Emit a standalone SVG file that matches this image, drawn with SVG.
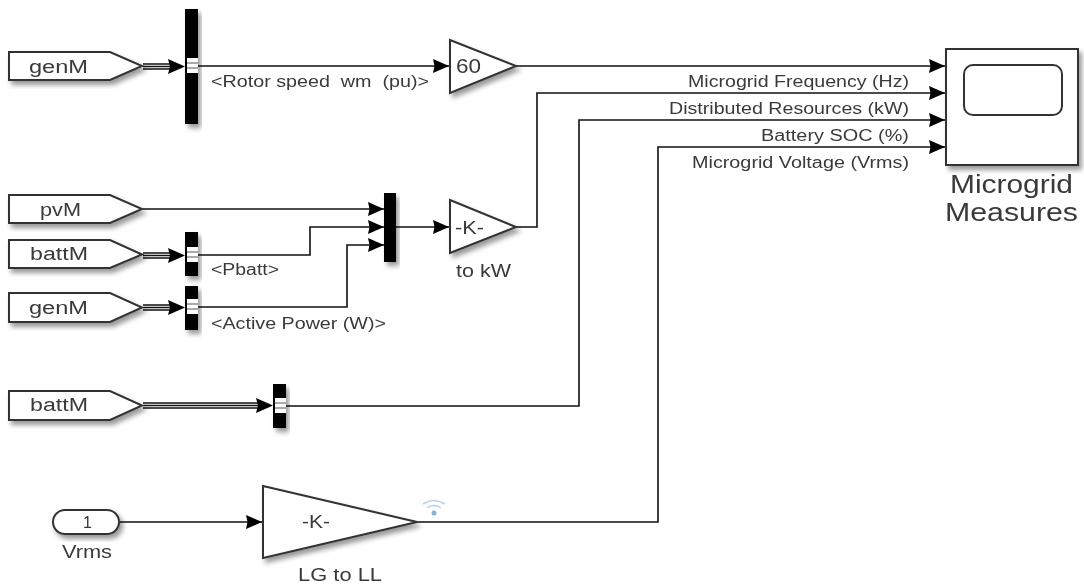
<svg xmlns="http://www.w3.org/2000/svg" width="1084" height="586" viewBox="0 0 1084 586">
<style>
text{font-family:"Liberation Sans",Arial,sans-serif;fill:#3a3a3a;font-size:14px;white-space:pre}
.f{font-size:18px}
.l{font-size:16px}
.b{fill:#fff;stroke:#333;stroke-width:2}
.bar{fill:#000}
.p{fill:#fff;stroke:none}
.c{fill:none;stroke:#111;stroke-width:1.6}
.t{fill:none;stroke:#111;stroke-width:1.3}
.s{filter:url(#sh)}
</style>
<defs>
<filter id="sh" x="-20%" y="-20%" width="150%" height="150%"><feDropShadow dx="3" dy="4" stdDeviation="2.5" flood-color="#000" flood-opacity="0.4"/></filter>
<marker id="a" markerUnits="userSpaceOnUse" markerWidth="17" markerHeight="14" refX="16" refY="7" orient="auto"><path d="M0 0L16 7L0 14L1.500 7Z" fill="#000"/></marker>
<g id="port"><rect x="2" y="-8" width="11" height="15" class="p"/><path d="M2 -3H13M2 2H13" stroke="#555" stroke-width="1"/></g>
</defs>
<g style="filter:blur(0.45px)">
<g id="connectors">
<path class="c" d="M198 66H449" marker-end="url(#a)"/>
<path class="c" d="M516 66H945" marker-end="url(#a)"/>
<path class="c" d="M516 227H537V93H945" marker-end="url(#a)"/>
<path class="c" d="M286 406H579V120H945" marker-end="url(#a)"/>
<path class="c" d="M417 522H658V147H945" marker-end="url(#a)"/>
<path class="c" d="M143 209H384" marker-end="url(#a)"/>
<path class="c" d="M198 255H310V227H384" marker-end="url(#a)"/>
<path class="c" d="M198 307H347V245H384" marker-end="url(#a)"/>
<path class="c" d="M396 227H449" marker-end="url(#a)"/>
<path class="c" d="M120 522H262" marker-end="url(#a)"/>
<path class="t" d="M143 64H172M143 66.500H172M143 69H172"/>
<path d="M168 59L185 66.500L168 74L170 66.500Z" fill="#000"/>
<path class="t" d="M143 253H172M143 255.500H172M143 258H172"/>
<path d="M168 248L185 255.500L168 263L170 255.500Z" fill="#000"/>
<path class="t" d="M143 305H172M143 307.500H172M143 310H172"/>
<path d="M168 300L185 307.500L168 315L170 307.500Z" fill="#000"/>
<path class="t" d="M143 403H262M143 405.500H262M143 408H262"/>
<path d="M256 398L273 405.500L256 413L258 405.500Z" fill="#000"/>
</g>
<g id="genM1"><path class="b s" d="M9 52H110L142 66L110 80H9Z"/><text class="f" x="29" y="73" textLength="59" lengthAdjust="spacingAndGlyphs">genM</text></g>
<g id="pvM"><path class="b s" d="M9 195H110L142 209L110 223H9Z"/><text class="f" x="40" y="216" textLength="41" lengthAdjust="spacingAndGlyphs">pvM</text></g>
<g id="battM1"><path class="b s" d="M9 240H110L142 254.500L110 268H9Z"/><text class="f" x="30" y="260" textLength="58" lengthAdjust="spacingAndGlyphs">battM</text></g>
<g id="genM2"><path class="b s" d="M9 293H110L142 307.500L110 322H9Z"/><text class="f" x="29" y="314" textLength="59" lengthAdjust="spacingAndGlyphs">genM</text></g>
<g id="battM2"><path class="b s" d="M9 391H110L142 405.500L110 420H9Z"/><text class="f" x="30" y="411" textLength="58" lengthAdjust="spacingAndGlyphs">battM</text></g>
<g id="selector1"><rect class="bar s" x="185" y="9" width="13" height="115"/><use href="#port" x="185" y="66"/></g>
<g id="selector2"><rect class="bar s" x="185" y="232" width="13" height="44"/><use href="#port" x="185" y="255"/></g>
<g id="selector3"><rect class="bar s" x="185" y="286" width="13" height="44"/><use href="#port" x="185" y="307"/></g>
<g id="selector4"><rect class="bar s" x="273" y="384" width="13" height="44"/><use href="#port" x="273" y="406"/></g>
<g id="mux"><rect class="bar s" x="384" y="193" width="12" height="69"/></g>
<g id="gain60"><path class="b s" d="M450 40L516 66L450 93Z"/><text x="456" y="73" style="font-size:20px" textLength="25" lengthAdjust="spacingAndGlyphs">60</text></g>
<g id="toKW"><path class="b s" d="M450 200L516 227L450 253Z"/><text class="f" x="455" y="234" textLength="29" lengthAdjust="spacingAndGlyphs">-K-</text><text class="f" x="456" y="277" textLength="55" lengthAdjust="spacingAndGlyphs">to kW</text></g>
<g id="scope"><rect class="b s" x="946" y="49" width="132" height="116"/><rect x="964" y="65" width="98" height="50" rx="9" fill="#fff" stroke="#333" stroke-width="2"/><text x="950" y="193" style="font-size:25px" textLength="123" lengthAdjust="spacingAndGlyphs">Microgrid</text><text x="945" y="221" style="font-size:25px" textLength="133" lengthAdjust="spacingAndGlyphs">Measures</text></g>
<g id="vrms"><rect class="b s" x="53" y="510" width="66" height="24" rx="12"/><text x="83" y="528" style="font-size:16px">1</text><text class="f" x="62" y="558" textLength="50" lengthAdjust="spacingAndGlyphs">Vrms</text></g>
<g id="lgToLL"><path class="b s" d="M263 486L417 522L263 558Z"/><text class="f" x="302" y="528" textLength="28" lengthAdjust="spacingAndGlyphs">-K-</text><text class="f" x="298" y="581" textLength="84" lengthAdjust="spacingAndGlyphs">LG to LL</text></g>
<g id="wifi" fill="none" stroke="#b5d0ea" stroke-width="1.500"><path d="M423 504Q434 497 445 504M427 508Q434 503 441 508"/><circle cx="434" cy="513" r="2.500" fill="#7fb0e0" stroke="none"/></g>
<g id="labels">
<text class="l" x="211" y="87" textLength="218" lengthAdjust="spacingAndGlyphs">&lt;Rotor speed  wm  (pu)&gt;</text>
<text class="l" x="211" y="275" textLength="68" lengthAdjust="spacingAndGlyphs">&lt;Pbatt&gt;</text>
<text class="l" x="211" y="329" textLength="175" lengthAdjust="spacingAndGlyphs">&lt;Active Power (W)&gt;</text>
<text class="l" x="688" y="87" textLength="221" lengthAdjust="spacingAndGlyphs">Microgrid Frequency (Hz)</text>
<text class="l" x="669" y="114" textLength="240" lengthAdjust="spacingAndGlyphs">Distributed Resources (kW)</text>
<text class="l" x="761" y="141" textLength="148" lengthAdjust="spacingAndGlyphs">Battery SOC (%)</text>
<text class="l" x="692" y="168" textLength="217" lengthAdjust="spacingAndGlyphs">Microgrid Voltage (Vrms)</text>
</g>
</g>
</svg>
